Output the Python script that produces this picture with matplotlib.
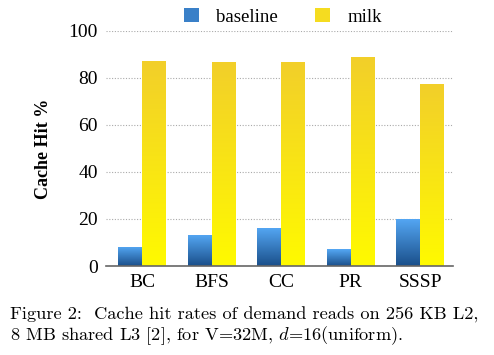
import numpy as np
import matplotlib.pyplot as plt
from matplotlib.colors import LinearSegmentedColormap
from matplotlib.patches import Patch

plt.rcParams['mathtext.fontset'] = 'cm'

categories = ['BC', 'BFS', 'CC', 'PR', 'SSSP']
baseline = [8.1, 13.2, 16.2, 7.2, 20.0]
milk = [87.2, 86.8, 86.8, 88.9, 77.4]
yticks = [0, 20, 40, 60, 80, 100]

blue_cmap = LinearSegmentedColormap.from_list('b', ['#1a4f8a', '#55a8f5'])
yellow_cmap = LinearSegmentedColormap.from_list('y', ['#fffa00', '#f2cf2a'])

fig = plt.figure(figsize=(4.94, 3.55), dpi=100)
ax = fig.add_axes([0.2146, 0.2507, 0.7024, 0.662])

x = np.arange(len(categories))
w = 0.345
b1 = ax.bar(x - w / 2, baseline, w, color='#3a80c8', zorder=2)
b2 = ax.bar(x + w / 2, milk, w, color='#f7e020', zorder=2)

# gradient fill clipped to each bar
grad = np.linspace(0, 1, 256).reshape(-1, 1)
for bars, cmap in [(b1, blue_cmap), (b2, yellow_cmap)]:
    for bar in bars:
        bx, by = bar.get_x(), bar.get_y()
        bw, bh = bar.get_width(), bar.get_height()
        im = ax.imshow(grad, cmap=cmap, aspect='auto', origin='lower',
                       extent=[bx, bx + bw, by, by + bh], zorder=3)
        im.set_clip_path(bar)
        bar.set_facecolor('none')

ax.set_xlim(-0.52, 4.47)
ax.set_ylim(0, 100)
ax.set_xticks(x)
ax.set_xticklabels(categories, family='Liberation Serif', fontsize=14)
ax.set_yticks(yticks)
ax.set_yticklabels([str(t) for t in yticks], family='Liberation Serif', fontsize=14)
ax.tick_params(length=0, pad=6)
ax.yaxis.grid(True, linestyle=(0, (1, 1.5)), color='#aaaaaa', linewidth=0.8, zorder=0)
ax.set_axisbelow(True)
for s in ['left', 'right', 'top']:
    ax.spines[s].set_visible(False)
ax.spines['bottom'].set_color('#666666')
ax.spines['bottom'].set_linewidth(1.2)
ax.spines['bottom'].set_zorder(4)
ax.set_ylabel('Cache Hit %', family='Liberation Serif', fontsize=13, fontweight='bold', labelpad=12)

handles = [Patch(facecolor='#3a80c8'), Patch(facecolor='#f5dc20')]
ax.legend(handles, ['baseline', 'milk'], loc='lower center', bbox_to_anchor=(0.51, 0.99),
          ncol=2, frameon=False, prop={'family': 'Liberation Serif', 'size': 13.5},
          handlelength=0.8, handleheight=0.8, columnspacing=2.0, handletextpad=0.9,
          borderaxespad=0)

fig.text(0.02, 0.1, 'Figure 2:  Cache hit rates of demand reads on 256 KB L2,',
         family='cmr10', fontsize=13.2, va='baseline')
fig.text(0.02, 0.043, '8 MB shared L3 [2], for V=32M, $d$=16(uniform).',
         family='cmr10', fontsize=13.2, va='baseline')

fig.savefig('out.png', dpi=100)
